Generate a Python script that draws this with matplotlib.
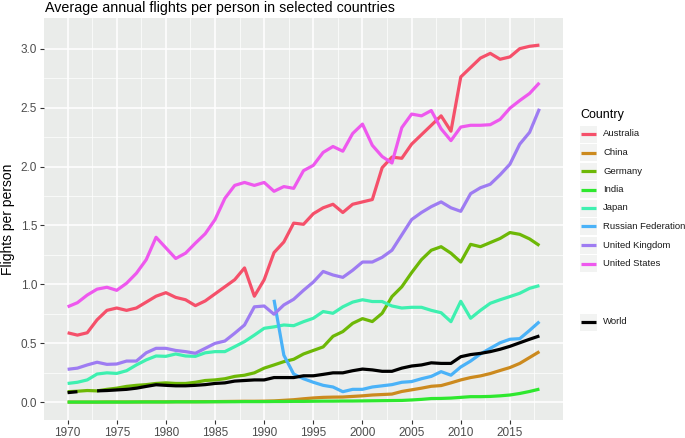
import matplotlib
matplotlib.use("Agg")
import matplotlib.pyplot as plt
from matplotlib.lines import Line2D
from matplotlib.patches import Rectangle
import numpy as np

plt.rcParams['font.family'] = ['Liberation Sans', 'DejaVu Sans']

years = list(range(1970, 2019))

australia = [0.59, 0.57, 0.59, 0.70, 0.78, 0.80, 0.78, 0.80, 0.85, 0.90, 0.93, 0.89, 0.87, 0.82, 0.86,
             0.92, 0.98, 1.04, 1.14, 0.90, 1.04, 1.27, 1.36, 1.52, 1.51, 1.60, 1.65, 1.68, 1.61, 1.68,
             1.70, 1.72, 1.99, 2.08, 2.07, 2.19, 2.27, 2.35, 2.43, 2.30, 2.76, 2.84, 2.92, 2.96, 2.91,
             2.93, 3.00, 3.02, 3.03]
china = [0.002, 0.002, 0.002, 0.002, 0.003, 0.003, 0.003, 0.003, 0.004, 0.004, 0.004, 0.005, 0.005,
         0.005, 0.006, 0.006, 0.007, 0.008, 0.009, 0.009, 0.010, 0.012, 0.017, 0.022, 0.030, 0.037,
         0.042, 0.044, 0.045, 0.050, 0.055, 0.062, 0.066, 0.070, 0.092, 0.106, 0.120, 0.136, 0.142,
         0.165, 0.19, 0.21, 0.224, 0.244, 0.27, 0.295, 0.33, 0.38, 0.43]
germany = [0.09, 0.094, 0.10, 0.097, 0.11, 0.12, 0.135, 0.144, 0.15, 0.16, 0.165, 0.16, 0.16, 0.17,
           0.185, 0.19, 0.20, 0.22, 0.23, 0.25, 0.29, 0.317, 0.345, 0.365, 0.41, 0.44, 0.47, 0.56,
           0.60, 0.67, 0.71, 0.685, 0.755, 0.897, 0.98, 1.10, 1.21, 1.29, 1.32, 1.265, 1.19, 1.34,
           1.32, 1.355, 1.39, 1.44, 1.425, 1.386, 1.33]
india = [0.002, 0.002, 0.002, 0.002, 0.002, 0.002, 0.002, 0.003, 0.003, 0.003, 0.003, 0.004, 0.004,
         0.004, 0.004, 0.005, 0.005, 0.005, 0.006, 0.006, 0.006, 0.007, 0.007, 0.008, 0.008, 0.009,
         0.010, 0.010, 0.011, 0.011, 0.012, 0.013, 0.014, 0.015, 0.016, 0.020, 0.025, 0.032, 0.033,
         0.036, 0.042, 0.048, 0.048, 0.050, 0.055, 0.062, 0.075, 0.092, 0.112]
japan = [0.16, 0.17, 0.19, 0.24, 0.25, 0.245, 0.268, 0.317, 0.36, 0.393, 0.39, 0.41, 0.393, 0.39,
         0.42, 0.43, 0.43, 0.472, 0.515, 0.57, 0.628, 0.64, 0.656, 0.65, 0.684, 0.713, 0.77, 0.755,
         0.81, 0.85, 0.87, 0.855, 0.855, 0.817, 0.80, 0.806, 0.806, 0.78, 0.76, 0.684, 0.857, 0.713,
         0.78, 0.84, 0.87, 0.897, 0.925, 0.967, 0.99]
russia = [np.nan] * 21 + [0.87, 0.40, 0.24, 0.20, 0.17, 0.144, 0.13, 0.09, 0.11, 0.11, 0.13, 0.14,
                          0.15, 0.17, 0.176, 0.20, 0.22, 0.26, 0.23, 0.30, 0.35, 0.41, 0.458, 0.505,
                          0.535, 0.54, 0.61, 0.684]
uk = [0.28, 0.29, 0.317, 0.34, 0.322, 0.325, 0.35, 0.35, 0.42, 0.458, 0.458, 0.44, 0.43, 0.416, 0.458,
      0.50, 0.52, 0.586, 0.656, 0.81, 0.817, 0.747, 0.826, 0.874, 0.95, 1.02, 1.11, 1.08, 1.06, 1.12,
      1.19, 1.19, 1.23, 1.29, 1.42, 1.55, 1.61, 1.66, 1.70, 1.65, 1.62, 1.77, 1.82, 1.85, 1.93, 2.02,
      2.19, 2.29, 2.49]
us = [0.81, 0.845, 0.91, 0.96, 0.976, 0.95, 1.01, 1.095, 1.21, 1.40, 1.31, 1.22, 1.265, 1.35, 1.43,
      1.55, 1.73, 1.84, 1.865, 1.84, 1.865, 1.79, 1.83, 1.815, 1.965, 2.01, 2.12, 2.17, 2.13, 2.28,
      2.36, 2.18, 2.085, 2.03, 2.33, 2.445, 2.43, 2.475, 2.32, 2.22, 2.335, 2.35, 2.35, 2.355, 2.40,
      2.495, 2.56, 2.62, 2.71]
world = [0.082, 0.09, np.nan, 0.097, 0.10, 0.105, 0.11, 0.12, 0.135, 0.149, 0.144, 0.14, 0.14, 0.144,
         0.15, 0.16, 0.165, 0.18, 0.185, 0.19, 0.19, 0.21, 0.21, 0.21, 0.225, 0.225, 0.237, 0.25, 0.25,
         0.268, 0.282, 0.275, 0.263, 0.263, 0.29, 0.308, 0.317, 0.335, 0.33, 0.33, 0.387, 0.405, 0.415,
         0.43, 0.45, 0.475, 0.505, 0.535, 0.563]

countries = ["Australia", "China", "Germany", "India", "Japan",
             "Russian Federation", "United Kingdom", "United States"]
series = [australia, china, germany, india, japan, russia, uk, us]
colors = ["#F5506A", "#CC8A1E", "#6DB806", "#2EE82E", "#3EF0B0", "#4AB2F8", "#9E7CF2", "#EE58EE"]

fig = plt.figure(figsize=(6.85, 4.38), dpi=100)
ax = fig.add_axes([44 / 685, 1 - 420 / 438, (563 - 44) / 685, (420 - 18) / 438])
ax.set_facecolor("#EAECEA")
for s in ax.spines.values():
    s.set_visible(False)

lw = 2.3
for name, vals, c in zip(countries, series, colors):
    ax.plot(years, vals, color=c, lw=lw, solid_capstyle="butt", zorder=3)
ax.plot(years, world, color="black", lw=lw, solid_capstyle="butt", zorder=3)

ax.set_xlim(1967.6, 2020.4)
ax.set_ylim(-0.15, 3.26)
ax.set_xticks(range(1970, 2016, 5))
ax.set_yticks([0, 0.5, 1.0, 1.5, 2.0, 2.5, 3.0])
ax.set_yticklabels(["0.0", "0.5", "1.0", "1.5", "2.0", "2.5", "3.0"])
ax.set_xticks(np.arange(1972.5, 2020, 5), minor=True)
ax.set_yticks(np.arange(0.25, 3.2, 0.5), minor=True)
ax.grid(which="major", color="white", lw=1.1, zorder=0)
ax.grid(which="minor", color="white", lw=0.5, zorder=0)
ax.tick_params(which="major", length=3, width=0.8, color="#333333", labelsize=8.5,
               labelcolor="#4D4D4D", pad=2)
ax.tick_params(which="minor", length=0)
ax.set_axisbelow(True)
ax.set_ylabel("Flights per person", fontsize=10, labelpad=4)

fig.text(45 / 685, 1 - 8 / 438, "Average annual flights per person in selected countries",
         fontsize=10.3, va="center", ha="left")

# legend drawn by hand, ggplot style
def key(y_px, color, label):
    y = 1 - y_px / 438
    fig.add_artist(Rectangle((580 / 685, y - 8.5 / 438), 17 / 685, 17 / 438,
                             transform=fig.transFigure, facecolor="#F2F3F2", edgecolor="none"))
    fig.add_artist(Line2D([581 / 685, 596 / 685], [y, y], transform=fig.transFigure,
                          color=color, lw=lw, solid_capstyle="butt"))
    fig.text(603 / 685, y, label, fontsize=6.8, va="center", ha="left", color="#1A1A1A")

fig.text(580 / 685, 1 - 115 / 438, "Country", fontsize=9, va="center", ha="left")
for i, (name, c) in enumerate(zip(countries, colors)):
    key(134 + i * 18.5, c, name)
key(322, "black", "World")

fig.savefig("out.png", dpi=100)
